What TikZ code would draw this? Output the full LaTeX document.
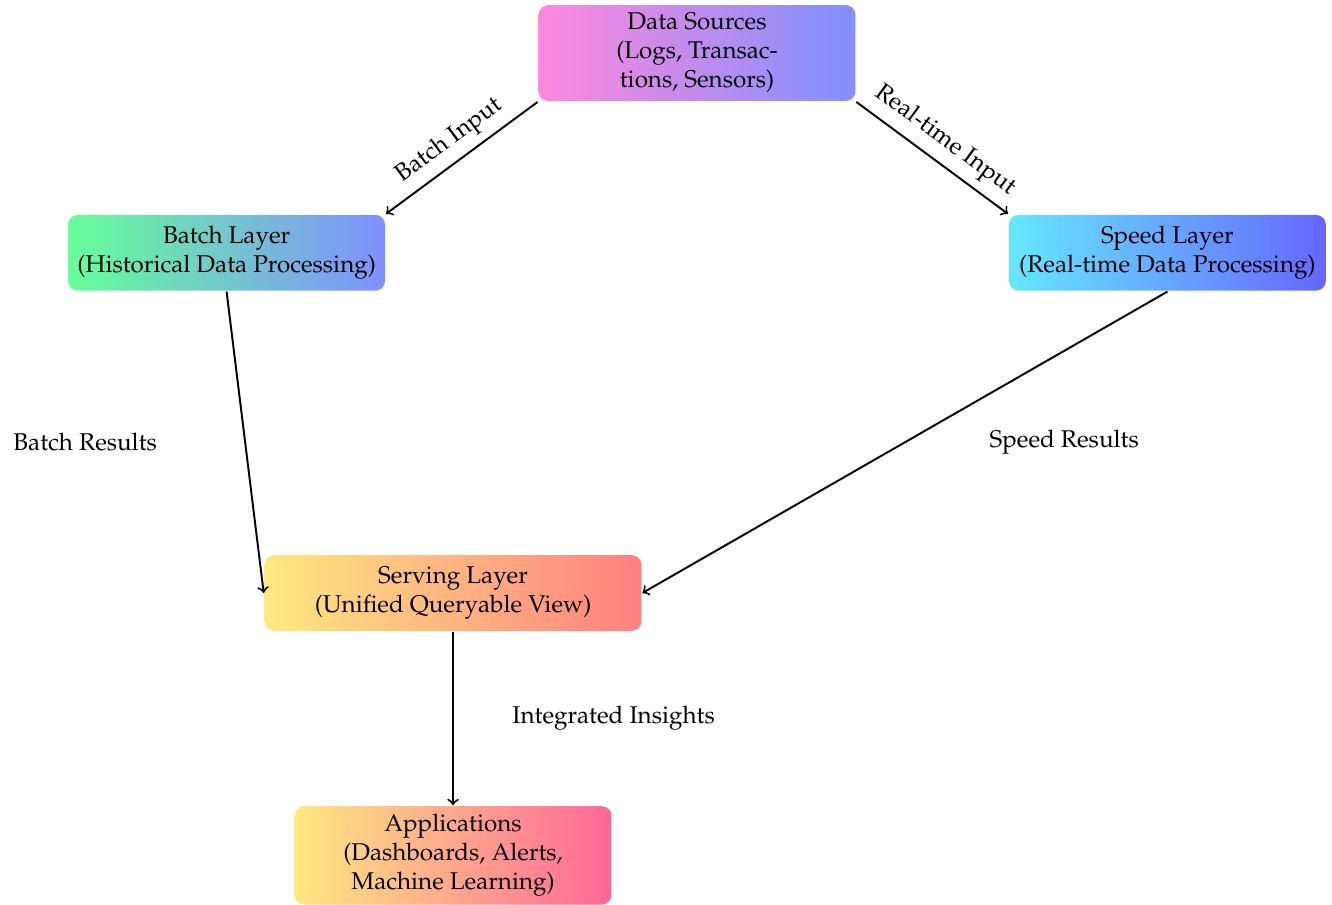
\documentclass[tikz,border=0pt]{standalone}
\usepackage[T1]{fontenc}
\usepackage{mathpazo}
\usetikzlibrary{arrows}

\definecolor{srcleft}{HTML}{FF88DD}
\definecolor{srcright}{HTML}{8090FF}
\definecolor{batchleft}{HTML}{66FF99}
\definecolor{batchright}{HTML}{8090FF}
\definecolor{speedleft}{HTML}{66E8FF}
\definecolor{speedright}{HTML}{6666FF}
\definecolor{serveleft}{HTML}{FFE980}
\definecolor{serveright}{HTML}{FF8080}
\definecolor{appleft}{HTML}{FFE980}
\definecolor{appright}{HTML}{FF6699}

\begin{document}
\begin{tikzpicture}[thick,->]

  \tikzstyle{layerbox}=[shape=rectangle,rounded corners=4pt,align=center,
                        minimum width=4.6cm,minimum height=1.1cm,inner sep=3.3pt]

  \useasboundingbox (0,0) rectangle (19.34,-13.14);

  \node[layerbox,left color=srcleft,right color=srcright]     (sources) at (10.12,-0.77)
        {Data Sources\\(Logs, Transac-\\tions, Sensors)};
  \node[layerbox,left color=batchleft,right color=batchright] (batch)   at (3.29,-3.67)
        {Batch Layer\\(Historical Data Processing)};
  \node[layerbox,left color=speedleft,right color=speedright] (speed)   at (16.95,-3.67)
        {Speed Layer\\(Real-time Data Processing)};
  \node[layerbox,minimum width=5.47cm,left color=serveleft,right color=serveright] (serving) at (6.578,-8.61)
        {Serving Layer\\(Unified Queryable View)};
  \node[layerbox,left color=appleft,right color=appright]     (apps)    at (6.578,-12.42)
        {Applications\\(Dashboards, Alerts,\\Machine Learning)};

  \path (sources.south west) edge node[above,sloped]           {Batch Input}         (batch.north east)
        (sources.south east) edge node[above,sloped]           {Real-time Input}     (speed.north west)
        (batch.south)        edge node[midway,left=1.15cm]     {Batch Results}       (serving.west)
        (speed.south)        edge node[midway,right=1.1cm]     {Speed Results}       (serving.east)
        (serving.south)      edge node[midway,right=0.73cm]    {Integrated Insights} (apps.north);
\end{tikzpicture}
\end{document}
